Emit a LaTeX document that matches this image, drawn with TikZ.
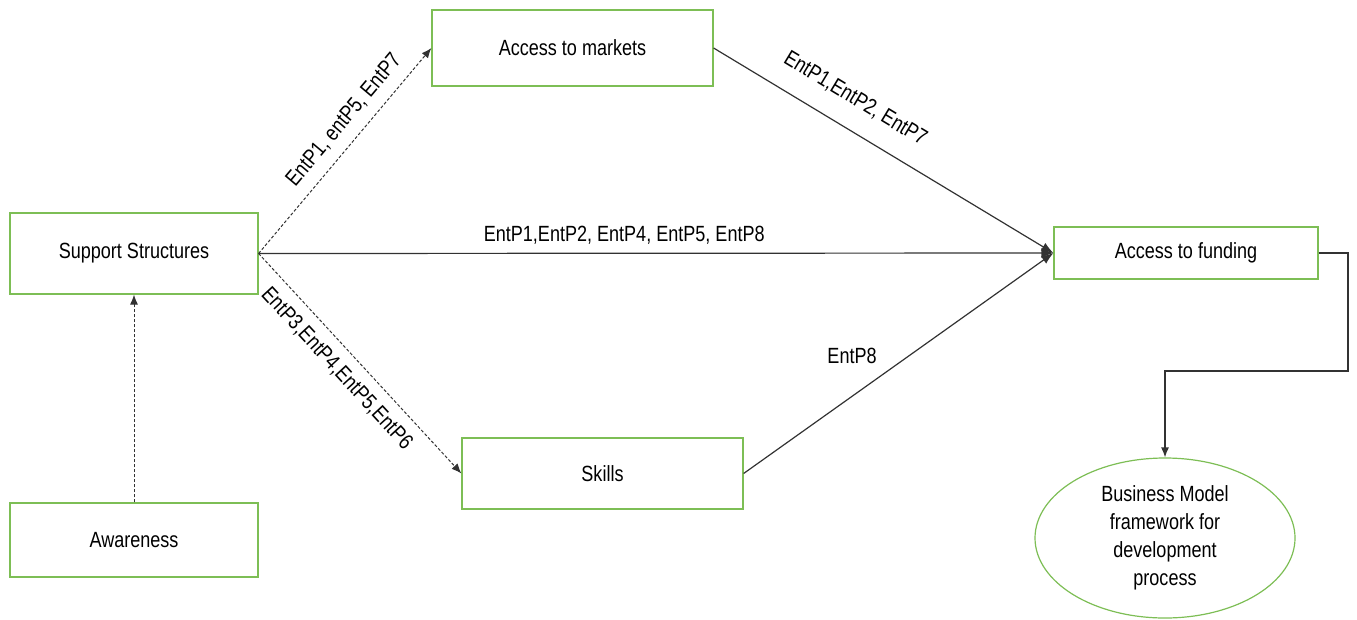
\documentclass[tikz,border=0pt]{standalone}
\usepackage{fontspec}
\setmainfont{Liberation Sans}[FakeStretch=0.82]
\usetikzlibrary{arrows.meta,shapes.geometric}
\definecolor{boxgreen}{RGB}{125,190,85}
\definecolor{linegray}{RGB}{50,50,50}
\tikzset{
  box/.style={draw=boxgreen, line width=1.2pt, fill=white, inner sep=0pt, align=center, font=\fontsize{22}{28}\selectfont},
  conn/.style={draw=linegray, line width=1.2pt},
  dconn/.style={draw=linegray, line width=1pt, dash pattern=on 3pt off 2pt, -{Latex[length=10pt,width=8pt]}},
  lbl/.style={font=\fontsize{22}{26}\selectfont, text=black, inner sep=2pt}
}
\begin{document}
\begin{tikzpicture}[x=1pt,y=-1pt]
\useasboundingbox (0,0) rectangle (1357,619);
\node[box, minimum width=248pt, minimum height=81pt] (ss) at (134,253.5) {Support Structures};
\node[box, minimum width=248pt, minimum height=74pt] (aw) at (134,540) {Awareness};
\node[box, minimum width=281pt, minimum height=76pt] (mk) at (572.5,48) {Access to markets};
\node[box, minimum width=281pt, minimum height=71pt] (sk) at (602.5,473.5) {Skills};
\node[box, minimum width=264pt, minimum height=52pt] (fd) at (1186,253) {Access to funding};
\node[box, ellipse, minimum width=260pt, minimum height=160pt] (bm) at (1165,538) {Business Model\\framework for\\development\\process};

\draw[dconn] (aw.north) -- (ss.south);
\draw[dconn] (ss.east) -- (mk.west) node[lbl, pos=0.585, sloped, above=9pt] {EntP1, entP5, EntP7};
\draw[dconn] (ss.east) -- (sk.west) node[lbl, pos=0.46, sloped, below=9pt] {EntP3,EntP4,EntP5,EntP6};
\draw[conn, -{Latex[length=12pt,width=10pt]}] (ss.east) -- (fd.west) node[lbl, pos=0.46, above=6pt] {EntP1,EntP2, EntP4, EntP5, EntP8};
\draw[conn, -{Latex[length=12pt,width=9pt]}] (mk.east) -- (fd.west) node[lbl, pos=0.372, sloped, above=18pt] {EntP1,EntP2, EntP7};
\draw[conn, -{Latex[length=12pt,width=9pt]}] (sk.east) -- (fd.west) node[lbl, pos=0.35, above=30pt] {EntP8};
\coordinate (c1) at (1348,253);
\coordinate (c2) at (1348,371);
\coordinate (c3) at (1165,371);
\draw[conn, -{Latex[length=10pt,width=8pt]}] (fd.east) -- (c1) -- (c2) -- (c3) -- (bm.north);
\end{tikzpicture}
\end{document}
